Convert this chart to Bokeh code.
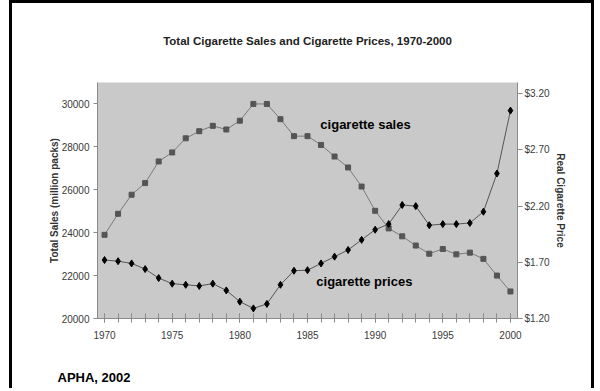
from bokeh.plotting import figure
from bokeh.models import (Range1d, LinearAxis, FixedTicker, NumeralTickFormatter,
                          BasicTickFormatter, Label, Title)
from bokeh.embed import file_html
from bokeh.resources import INLINE

years = list(range(1970, 2001))
sales = [23900, 24880, 25770, 26310, 27320, 27740, 28400, 28730, 28980, 28810,
         29220, 30000, 30000, 29290, 28500, 28500, 28090, 27550, 27040, 26150,
         25020, 24200, 23830, 23400, 23020, 23240, 22990, 23070, 22780, 22000,
         21260]
prices = [1.72, 1.71, 1.69, 1.64, 1.56, 1.51, 1.50, 1.49, 1.51, 1.45,
          1.35, 1.29, 1.33, 1.50, 1.625, 1.63, 1.69, 1.75, 1.81, 1.90,
          1.99, 2.04, 2.21, 2.20, 2.03, 2.04, 2.04, 2.05, 2.15, 2.49,
          3.05]
sales_ticks = [20000, 22000, 24000, 26000, 28000, 30000]
price_ticks = [1.20, 1.70, 2.20, 2.70, 3.20]
year_ticks = [1970, 1975, 1980, 1985, 1990, 1995, 2000]

title_text = "Total Cigarette Sales and Cigarette Prices, 1970-2000"
left_title = "Total Sales (million packs)"
right_title = "Real Cigarette Price"
source_text = "APHA, 2002"

FONT = "'Liberation Sans', Arial, sans-serif"

p = figure(width=585, height=388, output_backend="svg", toolbar_location=None,
           x_range=Range1d(1969.48, 2000.52), y_range=Range1d(20000, 31000),
           min_border_left=85, min_border_right=80, min_border_top=79,
           min_border_bottom=73)
p.styles = {"margin-left": "9px", "border-left": "3px solid black",
            "border-right": "3px solid black", "border-top": "3px solid black"}
p.background_fill_color = "#c9c9c9"
p.border_fill_color = "white"
p.outline_line_color = None
p.xgrid.visible = False
p.ygrid.visible = False

p.extra_y_ranges = {"price": Range1d(1.2, 3.3)}

xa = p.below[0]
ya = p.left[0]


def spacer_axis(size):
    # an axis that draws nothing and only reserves empty space
    ax = LinearAxis(ticker=FixedTicker(ticks=[1985], minor_ticks=[]),
                    major_label_overrides={1985: ""})
    ax.axis_line_color = None
    ax.major_tick_line_color = None
    ax.minor_tick_line_color = None
    ax.major_tick_in = 0
    ax.major_tick_out = size
    ax.minor_tick_in = 0
    ax.minor_tick_out = 0
    ax.major_label_standoff = 0
    ax.major_label_text_font_size = "1px"
    return ax


# title (with empty space between it and the plot area)
p.add_layout(spacer_axis(36), "above")
p.title.text = title_text
p.title.align = "center"
p.title.text_font = FONT
p.title.text_font_style = "bold"
p.title.text_font_size = "11.5px"
p.title.text_color = "#222222"
p.title.standoff = 0

# x axis
xa.ticker = FixedTicker(ticks=year_ticks, minor_ticks=years)
xa.major_tick_in = 5
xa.major_tick_out = 4
xa.minor_tick_in = 5
xa.minor_tick_out = 4
xa.axis_line_color = "#8a8a8a"
xa.major_tick_line_color = "#8a8a8a"
xa.minor_tick_line_color = "#8a8a8a"
xa.major_label_standoff = 8
xa.major_label_text_font = FONT
xa.major_label_text_font_size = "10px"
xa.major_label_text_color = "#3a3a3a"

# source note below, after a spacer
p.add_layout(spacer_axis(26), "below")
src = Title(text=source_text, align="left", offset=-40, standoff=0, text_font=FONT,
            text_font_style="bold", text_font_size="13px", text_color="black")
p.add_layout(src, "below")

# left axis
ya.ticker = FixedTicker(ticks=sales_ticks, minor_ticks=[])
ya.formatter = BasicTickFormatter(use_scientific=False)
ya.major_tick_in = 0
ya.major_tick_out = 4
ya.axis_line_color = "#8a8a8a"
ya.major_tick_line_color = "#8a8a8a"
ya.major_label_standoff = 4
ya.major_label_text_font = FONT
ya.major_label_text_font_size = "10px"
ya.major_label_text_color = "#3a3a3a"
ya.axis_label = left_title
ya.axis_label_text_font = FONT
ya.axis_label_text_font_style = "bold"
ya.axis_label_text_font_size = "10px"
ya.axis_label_text_color = "#333333"
ya.axis_label_standoff = -1

# right axis
ra = LinearAxis(y_range_name="price", ticker=FixedTicker(ticks=price_ticks, minor_ticks=[]),
                formatter=NumeralTickFormatter(format="$0.00"))
ra.major_tick_in = 0
ra.major_tick_out = 5
ra.axis_line_color = "#8a8a8a"
ra.major_tick_line_color = "#8a8a8a"
ra.major_label_standoff = 2
ra.major_label_text_font = FONT
ra.major_label_text_font_size = "10px"
ra.major_label_text_color = "#3a3a3a"
ra.axis_label = right_title
ra.axis_label_text_font = FONT
ra.axis_label_text_font_style = "bold"
ra.axis_label_text_font_size = "10px"
ra.axis_label_text_color = "#333333"
ra.axis_label_standoff = 2
p.add_layout(ra, "right")

# series
p.line(years, sales, line_color="#7a7a7a", line_width=1)
p.scatter(years, sales, marker="square", size=5, fill_color="#555555",
          line_color="#555555")
p.line(years, prices, y_range_name="price", line_color="#555555", line_width=1)
p.scatter(years, prices, y_range_name="price", marker="diamond", size=7,
          fill_color="black", line_color="black")

# series labels
p.add_layout(Label(x=1985.95, y=29020, text="cigarette sales", text_font=FONT,
                   text_font_style="bold", text_font_size="13px",
                   text_baseline="middle", text_color="black"))
p.add_layout(Label(x=1985.65, y=21720, text="cigarette prices", text_font=FONT,
                   text_font_style="bold", text_font_size="13px",
                   text_baseline="middle", text_color="black"))

open("out.html", "w").write(file_html(p, INLINE))
